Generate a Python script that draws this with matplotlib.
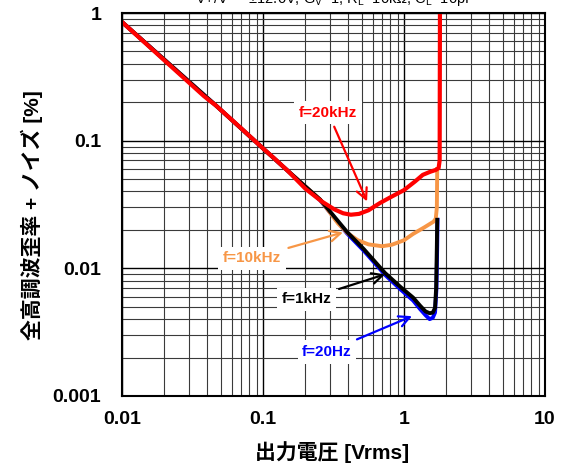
import matplotlib
matplotlib.use("Agg")
import matplotlib.pyplot as plt
from matplotlib.ticker import LogLocator, NullFormatter, FixedLocator, FixedFormatter

plt.rcParams['font.family'] = ['Liberation Sans', 'Noto Sans CJK JP', 'DejaVu Sans']
plt.rcParams['mathtext.fontset'] = 'custom'
plt.rcParams['mathtext.rm'] = 'Liberation Sans'
plt.rcParams['mathtext.it'] = 'Liberation Sans'

# ---- data ----
x_red = [0.01, 0.02, 0.038, 0.042, 0.046, 0.07, 0.1, 0.118, 0.15, 0.2, 0.26, 0.32, 0.37,
         0.42, 0.48, 0.56, 0.676, 0.8, 1.0, 1.2, 1.36, 1.53, 1.68, 1.76, 1.79, 1.80]
y_red = [0.85, 0.425, 0.224, 0.205, 0.19, 0.125, 0.087, 0.074, 0.058, 0.042, 0.0335, 0.029, 0.027,
         0.0263, 0.0267, 0.0285, 0.0325, 0.036, 0.041, 0.048, 0.054, 0.057, 0.059, 0.061, 0.07, 1.5]

x_org = [0.01, 0.046, 0.1, 0.15, 0.254, 0.34, 0.40, 0.47, 0.56, 0.70, 0.82, 1.0, 1.16,
         1.4, 1.62, 1.68, 1.71, 1.72]
y_org = [0.85, 0.19, 0.087, 0.058, 0.0346, 0.0225, 0.0188, 0.0166, 0.0154, 0.0149, 0.0153,
         0.0166, 0.0186, 0.021, 0.0232, 0.0245, 0.03, 0.06]

x_blk = [0.01, 0.046, 0.1, 0.15, 0.254, 0.351, 0.394, 0.52, 0.733, 0.95, 1.16, 1.3, 1.42,
         1.52, 1.6, 1.66, 1.69, 1.71, 1.72]
y_blk = [0.85, 0.19, 0.087, 0.058, 0.0346, 0.0225, 0.0193, 0.0141, 0.0092, 0.0071, 0.0059,
         0.0051, 0.0046, 0.00445, 0.0045, 0.0049, 0.007, 0.015, 0.024]

x_blu = [0.01, 0.046, 0.1, 0.15, 0.254, 0.351, 0.394, 0.52, 0.733, 0.95, 1.16, 1.3, 1.42,
         1.52, 1.6, 1.66, 1.70, 1.72, 1.73]
y_blu = [0.85, 0.19, 0.087, 0.058, 0.0342, 0.022, 0.0188, 0.0137, 0.0089, 0.0068, 0.0056,
         0.0048, 0.0043, 0.0040, 0.0041, 0.0045, 0.007, 0.015, 0.024]

x_ticks = [0.01, 0.1, 1, 10]
x_ticklabels = ['0.01', '0.1', '1', '10']
y_ticks = [0.001, 0.01, 0.1, 1]
y_ticklabels = ['0.001', '0.01', '0.1', '1']

labels = ['f=20kHz', 'f=10kHz', 'f=1kHz', 'f=20Hz']

RED = '#ff0000'
ORANGE = '#f79646'
BLACK = '#000000'
BLUE = '#0000ff'

fig = plt.figure(figsize=(5.61, 4.63), dpi=100)
ax = fig.add_axes([122/561, 1-396/463, (545-122)/561, (396-13)/463])
ax.set_xscale('log')
ax.set_yscale('log')
ax.set_xlim(0.01, 10)
ax.set_ylim(0.001, 1)

ax.plot(x_blu, y_blu, color=BLUE, lw=2.8, solid_joinstyle='round', zorder=3)
ax.plot(x_org, y_org, color=ORANGE, lw=2.8, solid_joinstyle='round', zorder=4)
ax.plot(x_blk, y_blk, color=BLACK, lw=2.8, solid_joinstyle='round', zorder=5)
ax.plot(x_red, y_red, color=RED, lw=3.0, solid_joinstyle='round', zorder=6)

ax.xaxis.set_major_locator(FixedLocator(x_ticks))
ax.xaxis.set_major_formatter(FixedFormatter(x_ticklabels))
ax.yaxis.set_major_locator(FixedLocator(y_ticks))
ax.yaxis.set_major_formatter(FixedFormatter(y_ticklabels))
ax.xaxis.set_minor_locator(LogLocator(base=10, subs=range(2, 10)))
ax.yaxis.set_minor_locator(LogLocator(base=10, subs=range(2, 10)))
ax.xaxis.set_minor_formatter(NullFormatter())
ax.yaxis.set_minor_formatter(NullFormatter())
ax.grid(which='major', color='black', lw=1.0, zorder=1)
ax.grid(which='minor', color='#3a3a3a', lw=0.8, zorder=1)
ax.set_axisbelow(True)
ax.tick_params(axis='x', which='both', length=0, pad=11)
ax.tick_params(axis='y', which='both', length=0, pad=15)
for lab in ax.get_xticklabels() + ax.get_yticklabels():
    lab.set_fontweight('bold')
    lab.set_fontsize(14)
for s in ax.spines.values():
    s.set_linewidth(1.5)
    s.set_zorder(10)

ax.set_xlabel('出力電圧 [Vrms]', fontsize=15, fontweight='bold', va='center')
ax.set_ylabel('全高調波歪率 + ノイズ [%]', fontsize=15, fontweight='bold', va='center')
ax.xaxis.set_label_coords(0.496, -0.146)
ax.yaxis.set_label_coords(-0.213, 0.473)

fig.text(335/561, 1-3/463, r'V+/V- = ±12.0V, G$_V$=1, R$_L$=10kΩ, C$_L$=10pF',
         ha='center', va='baseline', fontsize=10.5)

ann = [
    (labels[0], RED, (0.289, 0.166), (0.547, 0.0334)),
    (labels[1], ORANGE, (0.0836, 0.012), (0.369, 0.0191)),
    (labels[2], BLACK, (0.205, 0.00573), (0.733, 0.00897)),
    (labels[3], BLUE, (0.284, 0.00221), (1.14, 0.00422)),
]
for txt, col, xyt, xy in ann:
    ax.annotate(txt, xy=xy, xytext=xyt, ha='center', va='center',
                fontsize=11, fontweight='bold', color=col, zorder=12,
                bbox=dict(boxstyle='square,pad=0.3', fc='white', ec='none'),
                arrowprops=dict(arrowstyle='->,head_length=0.7,head_width=0.35',
                                color=col, lw=1.6, shrinkA=2, shrinkB=0))

fig.savefig('out.png', dpi=100)
